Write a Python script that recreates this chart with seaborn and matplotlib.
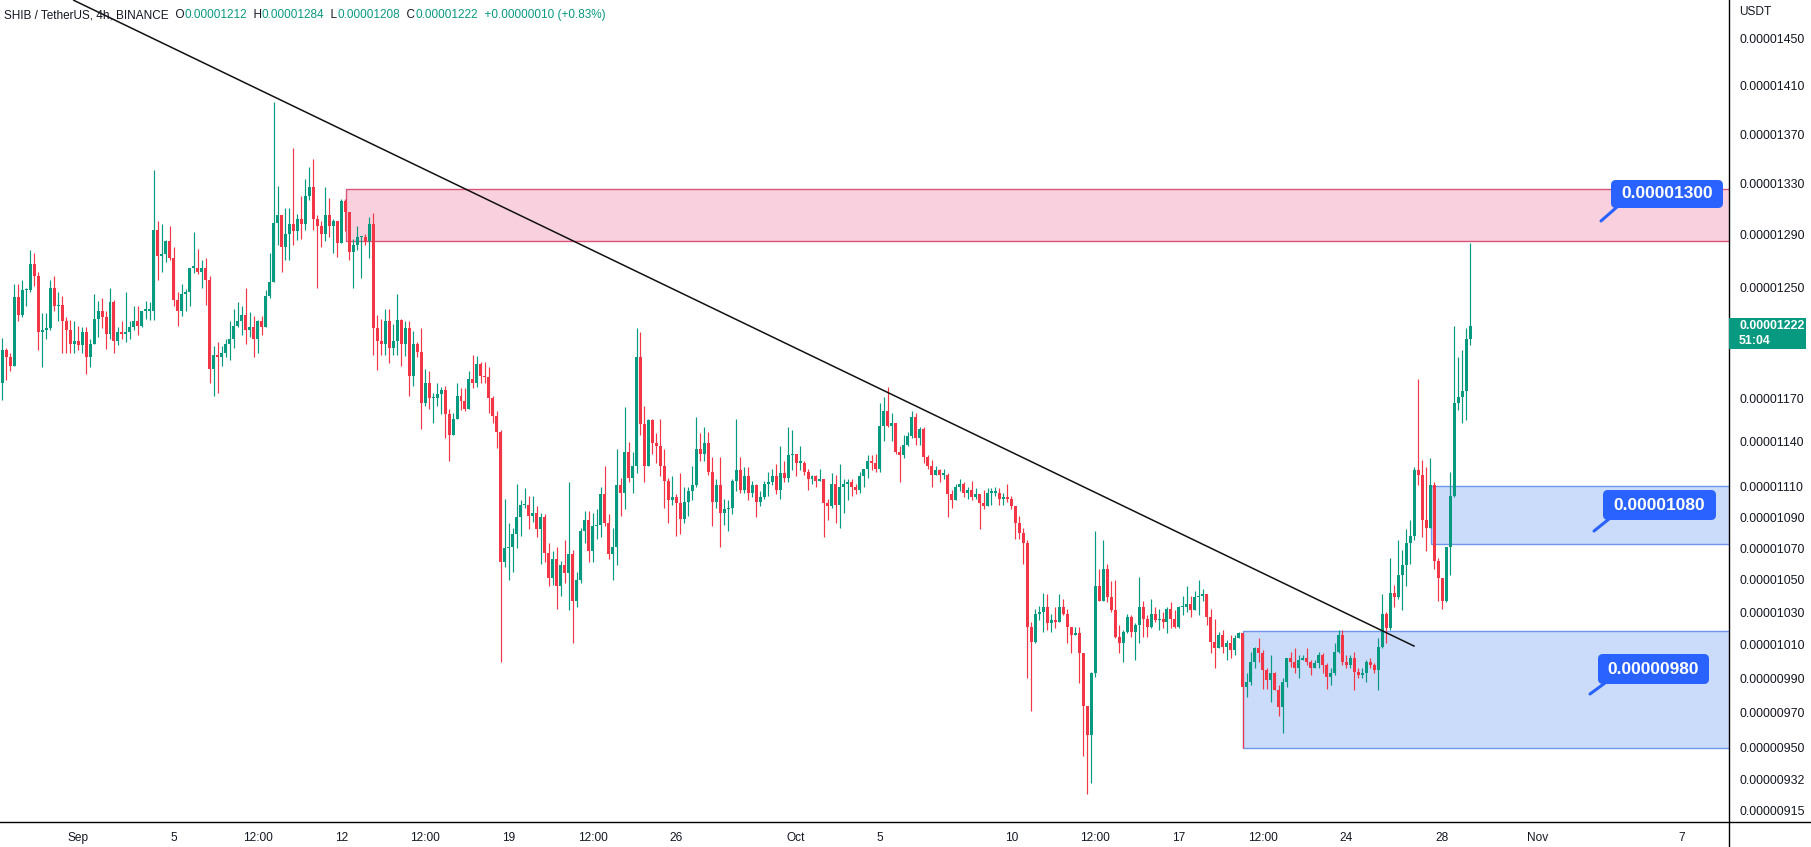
import numpy as np
import seaborn as sns
import matplotlib
matplotlib.use("Agg")
import matplotlib.pyplot as plt
from matplotlib.patches import Rectangle, FancyBboxPatch
from matplotlib.lines import Line2D
from matplotlib.transforms import IdentityTransform
from matplotlib.ticker import NullLocator

# ---------------- data (prices in units of 1e-8 USDT), SHIB/USDT 4h ----------------
first_open = 1181
close = [
1204,1199,1193,1243,1230,1248,1248,1268,1259,1217,
1219,1220,1250,1236,1237,1225,1219,1209,1211,1208,
1217,1199,1209,1227,1233,1228,1216,1239,1211,1217,
1216,1217,1221,1225,1222,1233,1233,1233,1294,1274,
1275,1285,1272,1241,1233,1245,1247,1265,1265,1262,
1265,1256,1191,1201,1199,1202,1209,1212,1222,1225,
1230,1219,1221,1212,1225,1221,1244,1254,1299,1305,
1281,1291,1298,1293,1302,1298,1320,1327,1302,1297,
1291,1305,1297,1301,1284,1316,1308,1277,1282,1288,
1288,1285,1298,1220,1211,1209,1225,1206,1211,1226,
1209,1220,1186,1209,1203,1167,1181,1170,1170,1173,
1176,1159,1145,1156,1172,1168,1163,1184,1181,1194,
1186,1185,1170,1158,1147,1061,1070,1071,1079,1090,
1098,1098,1091,1093,1082,1090,1067,1051,1063,1046,
1059,1054,1066,1037,1050,1081,1088,1068,1084,1085,
1105,1086,1066,1071,1111,1106,1133,1116,1124,1199,
1152,1124,1155,1139,1137,1124,1114,1101,1103,1099,
1089,1100,1107,1111,1135,1132,1139,1120,1100,1111,
1093,1095,1096,1114,1121,1108,1117,1106,1111,1100,
1103,1112,1113,1117,1108,1119,1116,1131,1132,1126,
1126,1120,1115,1117,1114,1115,1099,1097,1112,1098,
1110,1112,1113,1110,1108,1117,1122,1127,1126,1122,
1151,1161,1151,1153,1133,1131,1138,1144,1157,1143,
1149,1130,1124,1118,1121,1118,1118,1105,1101,1110,
1112,1106,1108,1103,1105,1099,1097,1106,1106,1106,
1102,1103,1102,1097,1086,1080,1073,1021,1012,1029,
1030,1033,1023,1025,1024,1033,1029,1021,1016,1017,
1005,974,957,993,1046,1037,1057,1039,1031,1015,
1011,1018,1027,1018,1022,1033,1026,1021,1029,1025,
1026,1024,1032,1026,1021,1033,1033,1035,1031,1039,
1040,1041,1027,1012,1008,1016,1009,1011,1007,1014,
1017,985,988,1000,1008,1005,995,989,993,983,
973,988,1002,1000,996,1001,1002,1000,996,999,
1004,998,991,993,1006,1016,1000,998,1002,994,
992,993,1000,998,995,1009,1029,1020,1042,1039,
1053,1059,1073,1078,1121,1118,1088,1083,1111,1062,
1051,1037,1071,1104,1167,1171,1175,1212,1222]
high = [
1213,1206,1202,1253,1253,1256,1250,1278,1276,1262,
1231,1231,1256,1259,1247,1244,1228,1226,1225,1222,
1221,1221,1212,1245,1240,1242,1233,1250,1241,1221,
1225,1247,1225,1236,1236,1233,1240,1239,1341,1301,
1298,1286,1297,1281,1247,1253,1249,1265,1292,1279,
1271,1272,1259,1207,1210,1207,1212,1225,1234,1239,
1236,1250,1232,1229,1226,1229,1248,1276,1396,1328,
1305,1311,1311,1359,1306,1320,1334,1343,1350,1305,
1301,1327,1319,1302,1301,1318,1318,1308,1287,1297,
1289,1291,1304,1307,1230,1227,1234,1234,1223,1245,
1227,1225,1225,1218,1210,1220,1191,1189,1174,1181,
1178,1179,1163,1160,1181,1177,1177,1189,1201,1200,
1196,1196,1192,1172,1161,1148,1102,1086,1083,1112,
1101,1109,1104,1104,1097,1093,1092,1073,1068,1071,
1062,1075,1113,1069,1055,1083,1094,1094,1093,1095,
1110,1124,1092,1083,1135,1116,1164,1140,1133,1220,
1217,1165,1156,1156,1146,1156,1135,1116,1117,1105,
1119,1110,1110,1124,1157,1146,1150,1147,1130,1115,
1130,1102,1101,1115,1156,1130,1123,1123,1114,1112,
1107,1114,1120,1122,1125,1137,1127,1150,1148,1132,
1137,1127,1122,1118,1118,1122,1115,1102,1119,1118,
1125,1115,1115,1115,1112,1120,1122,1131,1131,1132,
1167,1171,1178,1160,1153,1137,1145,1147,1161,1160,
1150,1150,1131,1128,1124,1122,1122,1119,1108,1112,
1115,1113,1110,1114,1109,1105,1108,1109,1109,1110,
1109,1106,1112,1104,1097,1091,1083,1075,1024,1032,
1034,1042,1041,1029,1033,1041,1038,1032,1021,1021,
1021,1005,973,994,1081,1057,1075,1060,1049,1050,
1022,1019,1029,1028,1023,1052,1037,1028,1038,1033,
1032,1030,1033,1036,1031,1034,1040,1046,1040,1043,
1050,1044,1041,1032,1026,1018,1019,1013,1016,1016,
1018,1017,993,1006,1009,1014,1007,996,1004,994,
986,990,1002,1006,1008,1004,1004,1008,1001,1001,
1006,1005,999,996,1011,1019,1019,1004,1004,1006,
996,996,1001,1002,999,1014,1041,1030,1064,1047,
1075,1069,1082,1088,1123,1184,1128,1123,1129,1113,
1064,1051,1071,1120,1222,1199,1204,1220,1284]
low = [
1169,1183,1189,1193,1225,1228,1236,1247,1251,1204,
1192,1212,1219,1233,1225,1202,1202,1202,1202,1204,
1202,1187,1192,1209,1214,1220,1205,1212,1202,1208,
1212,1210,1212,1219,1215,1221,1227,1226,1226,1256,
1262,1269,1271,1236,1222,1229,1233,1236,1261,1260,
1250,1237,1181,1172,1174,1193,1199,1197,1206,1221,
1215,1209,1214,1199,1202,1215,1221,1242,1254,1282,
1262,1271,1271,1282,1286,1287,1294,1317,1294,1250,
1281,1285,1288,1276,1273,1284,1293,1271,1250,1278,
1257,1282,1272,1201,1190,1201,1201,1195,1201,1201,
1193,1200,1172,1179,1199,1149,1165,1163,1153,1165,
1159,1143,1127,1146,1156,1162,1161,1164,1177,1178,
1181,1181,1160,1153,1136,1000,1058,1050,1055,1070,
1078,1096,1082,1087,1077,1060,1061,1046,1047,1032,
1040,1048,1031,1011,1033,1048,1073,1061,1061,1076,
1077,1084,1063,1050,1059,1091,1095,1113,1106,1119,
1145,1113,1124,1132,1126,1117,1096,1086,1098,1078,
1079,1086,1091,1101,1110,1127,1127,1118,1084,1096,
1071,1085,1081,1092,1107,1106,1106,1101,1103,1090,
1097,1102,1104,1111,1105,1102,1113,1113,1121,1117,
1121,1118,1108,1112,1110,1114,1077,1088,1096,1086,
1083,1093,1101,1104,1105,1106,1110,1116,1121,1120,
1120,1141,1150,1141,1132,1113,1129,1137,1143,1138,
1138,1126,1122,1110,1118,1113,1115,1090,1096,1101,
1107,1103,1102,1101,1102,1082,1095,1097,1098,1104,
1098,1098,1100,1095,1076,1076,1060,990,971,1011,
1025,1018,1019,1018,1020,1024,1028,1011,1005,1016,
987,945,924,930,991,1037,1037,1036,1030,1014,
1005,1000,1017,1015,1001,1011,1015,1015,1020,1024,
1019,1020,1017,1020,1020,1020,1028,1030,1027,1031,
1028,1037,1022,1005,996,1008,1005,1001,1002,1004,
1014,950,979,986,996,1000,984,984,976,983,
968,958,985,997,993,990,1001,998,992,996,
996,993,984,986,992,1005,998,996,996,983,
990,990,988,996,993,983,1008,1011,1019,1033,
1038,1031,1046,1060,1075,1111,1077,1068,1083,1057,
1037,1032,1036,1053,1103,1162,1153,1155,1208]

x_tick_pos = [19, 43, 64, 85, 106, 127, 148, 169, 199, 220, 253, 274, 295, 316, 337, 361, 385, 421]
x_tick_labels = ["Sep", "5", "12:00", "12", "12:00", "19", "12:00", "26", "Oct", "5",
                 "10", "12:00", "17", "12:00", "24", "28", "Nov", "7"]
y_tick_vals = [1450, 1410, 1370, 1330, 1290, 1250, 1170, 1140, 1110, 1090,
               1070, 1050, 1030, 1010, 990, 970, 950, 932, 915]

# zones: (start index, bottom price, top price)
resistance_zone = (86.2, 1285.1, 1325.7)
support_zone_upper = (358.2, 1072.5, 1110.7)
support_zone_lower = (311.1, 949.8, 1018.6)
zone_labels = ["0.00001300", "0.00001080", "0.00000980"]
trend_x = [17.75, 354.1]
trend_y = [1484.05, 1009.1]
header_ohlc = ["0.00001212", "0.00001284", "0.00001208", "0.00001222"]
header_change = "+0.00000010 (+0.83%)"
last_price_label = "0.00001222"
countdown = "51:04"

# ---------------- style ----------------
sns.set_theme(style="white")
plt.rcParams['font.family'] = ['Liberation Sans', 'DejaVu Sans']

UP = '#089981'
DOWN = '#f23645'
TXT = '#131722'
SCALE = 1e-8

W, H = 1811, 847
fig = plt.figure(figsize=(W / 100, H / 100), dpi=100)
fig.patch.set_facecolor('white')
AX_R = 1729
AX_B = 822
ax = fig.add_axes([0, (H - AX_B) / H, AX_R / W, AX_B / H])
ax.set_facecolor('white')

c = np.array(close, dtype=float)
o = np.concatenate([[first_open], c[:-1]])
h = np.array(high, dtype=float)
l = np.array(low, dtype=float)
idx = np.arange(len(c))
up = c >= o
colors = np.where(up, UP, DOWN)

ax.set_yscale('log')
xmax = 432.9
ax.set_xlim(-0.577, xmax)
ax.set_ylim(908.7 * SCALE, 1484.05 * SCALE)

# zones
for (x0, lo_, hi_), fc, ec in [
        (resistance_zone, '#f9d0dd', '#d9567a'),
        (support_zone_upper, '#cadcfa', '#6b98ee'),
        (support_zone_lower, '#cadcfa', '#6b98ee')]:
    ax.add_patch(Rectangle((x0, lo_ * SCALE), xmax + 5 - x0, (hi_ - lo_) * SCALE,
                           facecolor=fc, edgecolor=ec, linewidth=1.0, zorder=1))

# wicks
wlo = np.minimum(l, np.minimum(o, c))
whi = np.maximum(h, np.maximum(o, c))
ax.vlines(idx, wlo * SCALE, whi * SCALE, colors=colors, linewidth=0.85, zorder=3)
# bodies
blo = np.minimum(o, c)
bhi = np.maximum(np.maximum(o, c), blo * 1.0008)
ax.bar(idx, (bhi - blo) * SCALE, bottom=blo * SCALE, width=0.75, color=colors,
       linewidth=0, zorder=4)

# trendline
ax.plot(trend_x, np.array(trend_y) * SCALE, color='#111111', linewidth=1.1, zorder=5,
        solid_capstyle='butt')

# axes styling
ax.yaxis.tick_right()
ax.set_yticks(np.array(y_tick_vals) * SCALE)
ax.set_yticklabels([f"{v * SCALE:.8f}" for v in y_tick_vals])
ax.yaxis.set_minor_locator(NullLocator())
ax.set_xticks(x_tick_pos)
ax.set_xticklabels(x_tick_labels)
ax.tick_params(axis='y', length=0, pad=7.5, labelsize=8.9, labelcolor=TXT)
ax.tick_params(axis='x', length=0, pad=7, labelsize=8.6, labelcolor=TXT)
ax.grid(False)
for s in ['left', 'top']:
    ax.spines[s].set_visible(False)
for s in ['right', 'bottom']:
    ax.spines[s].set_color('#000000')
    ax.spines[s].set_linewidth(1.0)

ID = IdentityTransform()
def P(x, y):
    return x, H - y

# axis line extensions into the corner
fig.add_artist(Line2D([AX_R, W], [H - AX_B, H - AX_B], transform=ID, color='#000000', linewidth=1.0))
fig.add_artist(Line2D([AX_R, AX_R], [0, H - AX_B], transform=ID, color='#000000', linewidth=1.0))

fig.text(1739 / W, 1 - 12 / H, "USDT", fontsize=8.6, color=TXT, va='center', ha='left')

# last price tag
fig.add_artist(Rectangle(P(AX_R, 349), 1806 - AX_R, 31, transform=ID, facecolor=UP,
                         edgecolor='none'))
fig.text(1739 / W, 1 - 326 / H, last_price_label, fontsize=8.9, color='white',
         fontweight='bold', va='center', ha='left')
fig.text(1739 / W, 1 - 341 / H, countdown, fontsize=8.9, color='white',
         fontweight='bold', va='center', ha='left')

# callout labels
callouts = [((1611, 180, 112, 28), (1601, 221), (1617, 207)),
            ((1603, 490, 113, 30), (1594, 531), (1609, 519)),
            ((1598, 654, 111, 30), (1590, 694), (1605, 683))]
for text, ((bx, by, bw, bh), (ax0, ay0), (ax1, ay1)) in zip(zone_labels, callouts):
    fig.add_artist(Line2D([ax0, ax1], [H - ay0, H - ay1], transform=ID, color='#2962ff',
                          linewidth=2.2, solid_capstyle='round'))
    fig.add_artist(FancyBboxPatch((bx, H - by - bh), bw, bh, transform=ID,
                                  boxstyle="round,pad=0,rounding_size=5",
                                  facecolor='#2962ff', edgecolor='none'))
    fig.text((bx + bw / 2) / W, 1 - (by + bh / 2) / H, text, color='white',
             fontsize=12.5, fontweight='bold', ha='center', va='center')

# header
t = fig.text(4 / W, 1 - 15 / H, "SHIB / TetherUS, 4h, BINANCE", fontsize=8.5,
             color=TXT, va='center', ha='left')
parts = []
for letter, val in zip("OHLC", header_ohlc):
    parts.append(("  " + letter, TXT))
    parts.append((val, UP))
parts.append(("  " + header_change, UP))
prev = t
for s, col in parts:
    prev = ax.annotate(s, xy=(1, 0), xycoords=prev, va='bottom', ha='left',
                       fontsize=8.5, color=col, annotation_clip=False)

fig.savefig("out.png", dpi=100)
